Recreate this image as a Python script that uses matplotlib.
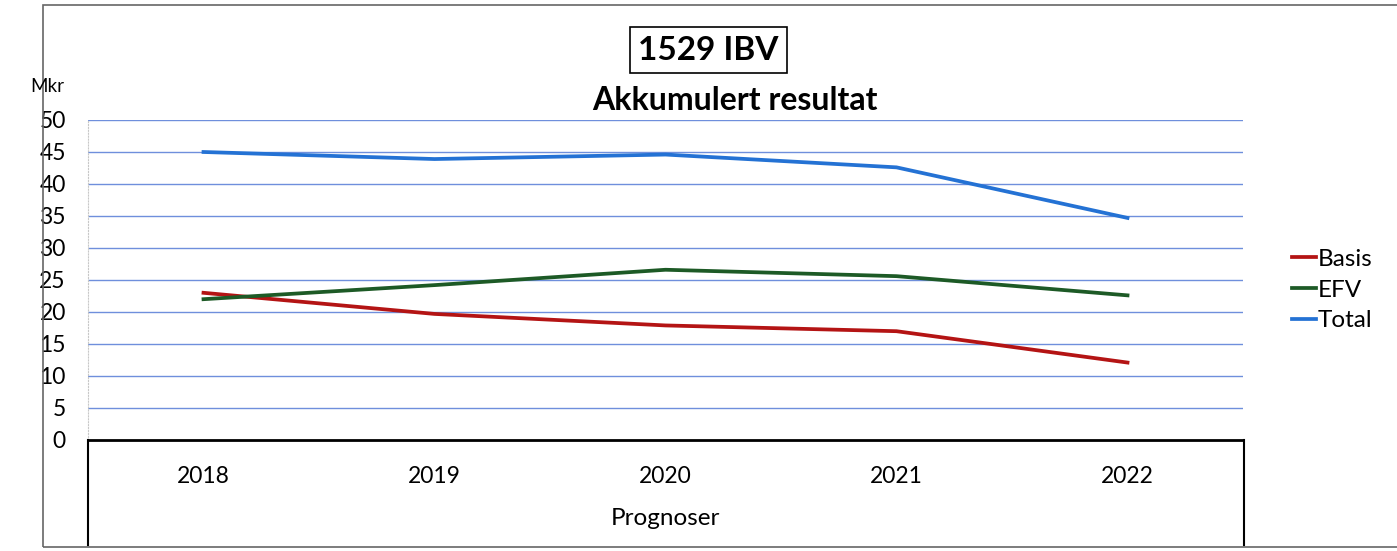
import matplotlib.pyplot as plt
from matplotlib.patches import Rectangle

plt.rcParams['font.family'] = ['Lato', 'DejaVu Sans']

years = ['2018', '2019', '2020', '2021', '2022']
basis = [23.0, 19.7, 17.9, 17.0, 12.1]
efv = [22.0, 24.2, 26.6, 25.6, 22.6]
total = [45.0, 43.9, 44.6, 42.6, 34.7]
yticks = [0, 5, 10, 15, 20, 25, 30, 35, 40, 45, 50]

fig = plt.figure(figsize=(13.97, 5.51), dpi=100)
ax = fig.add_axes([88 / 1397, 1 - 440 / 551, (1243 - 88) / 1397, 320 / 551])

x = range(len(years))
ax.plot(x, basis, color='#b41414', lw=2.7, label='Basis')
ax.plot(x, efv, color='#1d5a26', lw=2.7, label='EFV')
ax.plot(x, total, color='#2472d4', lw=2.7, label='Total')

ax.set_xlim(-0.5, len(years) - 0.5)
ax.set_ylim(0, 50)
ax.set_yticks(yticks)
ax.set_xticks(list(x))
ax.set_xticklabels(years)
ax.tick_params(axis='both', length=0, labelsize=16.5)
ax.tick_params(axis='y', pad=16)
ax.tick_params(axis='x', pad=19)
ax.set_xlabel('Prognoser', fontsize=17.5, labelpad=15)

for yv in yticks[1:]:
    ax.axhline(yv, color='#6f8fdc', lw=1.0, zorder=0)

for s in ['top', 'right']:
    ax.spines[s].set_visible(False)
ax.spines['left'].set_color('#c8c8c8')
ax.spines['left'].set_linewidth(0.8)
ax.spines['left'].set_linestyle(':')
ax.spines['bottom'].set_color('black')
ax.spines['bottom'].set_linewidth(2)

# box under the category axis
fig.add_artist(plt.Line2D([88 / 1397, 88 / 1397], [1 - 440 / 551, 1 - 545 / 551],
                          color='black', lw=1.5))
fig.add_artist(plt.Line2D([1244 / 1397, 1244 / 1397], [1 - 440 / 551, 1 - 545 / 551],
                          color='black', lw=1.5))

# scanned chart border
fig.add_artist(Rectangle((43 / 1397, 1 - 547 / 551), 1.0, (547 - 5) / 551,
                         transform=fig.transFigure, fill=False, ec='#666666', lw=1.2))

fig.text(0.507, 1 - 50 / 551, '1529 IBV', fontsize=24, fontweight='bold',
         ha='center', va='center',
         bbox=dict(boxstyle='square,pad=0.25', fc='white', ec='black', lw=1.2))
fig.text(0.526, 1 - 100 / 551, 'Akkumulert resultat', fontsize=23, fontweight='bold',
         ha='center', va='center')
fig.text(30 / 1397, 1 - 87 / 551, 'Mkr', fontsize=13.5, ha='left', va='center')

ax.legend(loc='center left', bbox_to_anchor=(1270 / 1397, 1 - 290 / 551),
          bbox_transform=fig.transFigure, frameon=False, fontsize=17.5,
          handlelength=1.0, handletextpad=0.05, labelspacing=0.4)

fig.savefig('out.png', dpi=100)
